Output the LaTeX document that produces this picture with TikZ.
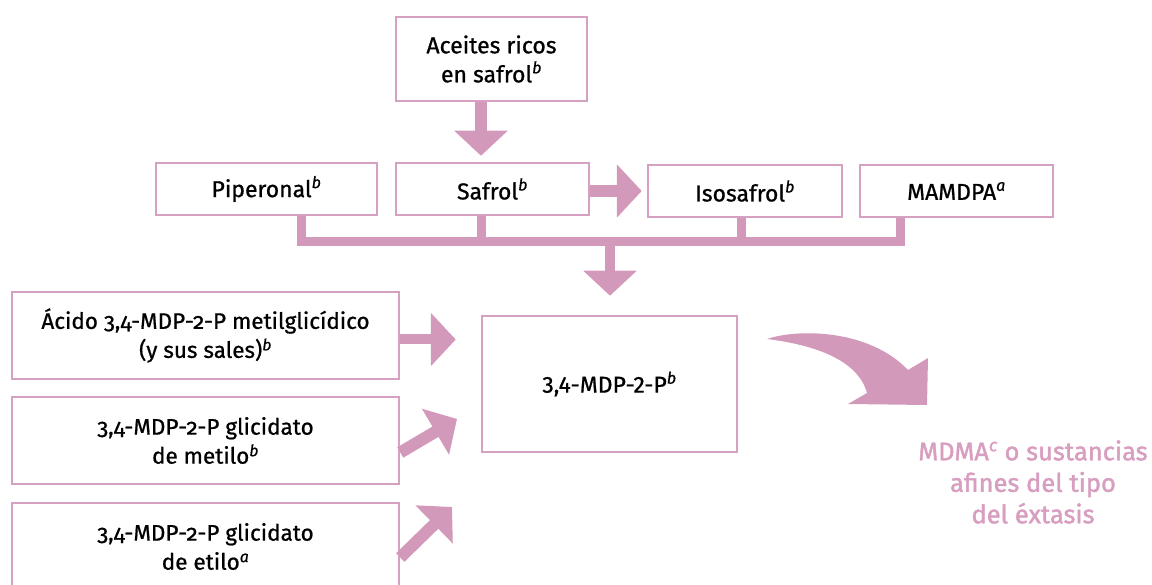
\documentclass[tikz,border=0pt]{standalone}
\usepackage{fontspec}
\setmainfont{Fira Sans}[FakeBold=0.8]
\newfontfamily\oldnum{Fira Sans}[Numbers=OldStyle,FakeBold=0.8]
\newfontfamily\heavy{Fira Sans}[FakeBold=1.6]
\usepackage{tikz}
\usetikzlibrary{arrows.meta}
\definecolor{box_pink}{RGB}{214,160,192}
\definecolor{arrow_pink}{RGB}{211,153,186}
\definecolor{text_pink}{RGB}{216,158,192}
\newcommand{\fn}[1]{\textsuperscript{\itshape #1}}

\begin{document}
\begin{tikzpicture}[x=1pt,y=-1pt,line join=miter,font=\fontsize{23}{29}\selectfont]
    \tikzstyle{box}=[draw=box_pink, line width=2.5pt, fill=white, text=black, align=center, inner sep=0pt]
    \tikzstyle{row}=[style=box, minimum height=52pt]
    \tikzstyle{src}=[style=box, minimum width=387pt, minimum height=87pt, font=\oldnum\fontsize{22.5}{29}\selectfont]
    \tikzstyle{fat}=[draw=arrow_pink, line width=12pt, -{Triangle[width=52pt,length=25pt]}]
    \tikzstyle{bar}=[draw=arrow_pink, line width=9pt]
    \tikzstyle{goal}=[text=text_pink, align=center, font=\heavy\fontsize{25.5}{31.5}\selectfont]

    \useasboundingbox (0,0) rectangle (1152,585);

    \node[box, minimum width=191pt, minimum height=84pt] (ace) at (491.5,59) {Aceites ricos\\en safrol\fn{b}};
    \node[row, minimum width=221pt] (pip) at (266.5,189) {Piperonal\fn{b}};
    \node[row, minimum width=193pt] (saf) at (492.5,189) {Safrol\fn{b}};
    \node[row, minimum width=194pt] (iso) at (745,191)   {Isosafrol\fn{b}};
    \node[row, minimum width=193pt] (mam) at (956.5,191) {MAMDPA\fn{a}};
    \node[src] (aci) at (205.5,335.5) {Ácido 3,4-MDP-2-P metilglicídico\\(y sus sales)\fn{b}};
    \node[src] (met) at (205.5,440.5) {3,4-MDP-2-P glicidato\\de metilo\fn{b}};
    \node[src] (eti) at (205.5,546.5) {3,4-MDP-2-P glicidato\\de etilo\fn{a}};
    \node[box, minimum width=255pt, minimum height=136pt] (mdp) at (609.5,384) {3,4-MDP-2-P\fn{b}};
    \node[goal] (mdma) at (1033,482) {MDMA\fn{c} o sustancias\\afines del tipo\\del éxtasis};

    % junction of the collecting bar
    \coordinate (j1) at (301,242);
    \coordinate (j2) at (481,242);
    \coordinate (j3) at (741,242);
    \coordinate (j4) at (900,242);
    \coordinate (jm) at (610,242);
    \coordinate (in2) at (457,419);
    \coordinate (in3) at (452,507);

    \draw[bar] (pip.south -| j1) -- (j1) -- (j4) -- (mam.south -| j4);
    \draw[bar] (saf.south -| j2) -- (j2);
    \draw[bar] (iso.south -| j3) -- (j3);

    \path
     (ace.south -| j2) edge[fat, shorten >=6pt] (saf.north -| j2)
     (iso.west -| saf.east) edge[fat, shorten >=5pt] (iso.west)
     (jm) edge[fat, line width=10pt, shorten >=19pt] (mdp.north -| jm)
     ([yshift=-4pt]aci.east) edge[fat, line width=10pt, shorten >=25pt] ([yshift=-4pt]aci.east -| mdp.west)
     ([yshift=-12pt]met.east) edge[fat] (in2)
     ([yshift=-11pt]eti.east) edge[fat] (in3)
     ;

    % curved arrow towards MDMA
    \fill[arrow_pink] (767,339) .. controls (800,328) and (870,330) .. (908,370)
        -- (928,358) -- (927,405) -- (848,404) -- (867,393)
        .. controls (858,360) and (815,345) .. (767,339) -- cycle;
\end{tikzpicture}
\end{document}
